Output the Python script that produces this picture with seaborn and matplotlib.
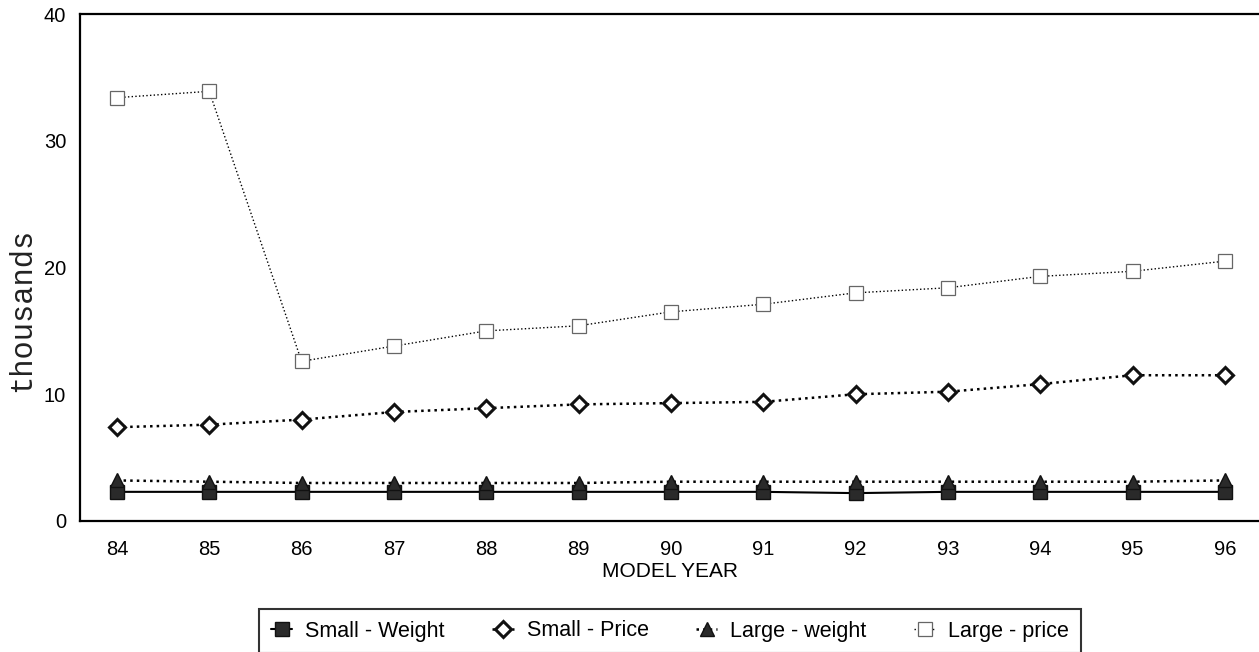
import seaborn as sns
import pandas as pd
import matplotlib.pyplot as plt

sns.set_theme(style="white")
plt.rcParams['font.family'] = ['Liberation Sans', 'DejaVu Sans']
plt.rcParams['text.color'] = 'black'
plt.rcParams['axes.labelcolor'] = 'black'
plt.rcParams['xtick.color'] = 'black'
plt.rcParams['ytick.color'] = 'black'

# Data (values in thousands).
years = [84, 85, 86, 87, 88, 89, 90, 91, 92, 93, 94, 95, 96]
small_weight = [2.3, 2.3, 2.3, 2.3, 2.3, 2.3, 2.3, 2.3, 2.2, 2.3, 2.3, 2.3, 2.3]
small_price = [7.4, 7.6, 8.0, 8.6, 8.9, 9.2, 9.3, 9.4, 10.0, 10.2, 10.8, 11.5, 11.5]
large_weight = [3.2, 3.1, 3.0, 3.0, 3.0, 3.0, 3.1, 3.1, 3.1, 3.1, 3.1, 3.1, 3.2]
large_price = [33.4, 33.9, 12.6, 13.8, 15.0, 15.4, 16.5, 17.1, 18.0, 18.4, 19.3, 19.7, 20.5]

series_names = ["Small - Weight", "Small - Price", "Large - weight", "Large - price"]
series_values = [small_weight, small_price, large_weight, large_price]

# Styles for each series: (linestyle, linewidth, marker, markersize, facecolor, edgecolor, edgewidth)
styles = {
    "Small - Weight": ("-", 1.5, "s", 9.5, "#2a2a2a", "#111111", 1.0),
    "Small - Price": (":", 1.8, "D", 8, "white", "#111111", 2.2),
    "Large - weight": (":", 1.8, "^", 10, "#2a2a2a", "#111111", 1.0),
    "Large - price": (":", 1.0, "s", 10, "white", "#666666", 0.9),
}

df = pd.concat([pd.DataFrame({"year": years, "value": v, "series": n})
                for n, v in zip(series_names, series_values)])

fig = plt.figure(figsize=(12.59, 6.52), dpi=100)
ax = fig.add_axes([80 / 1259, 1 - 521 / 652, 1 - 80 / 1259, (521 - 14) / 652])

for name in series_names:
    ls, lw, mk, ms, mfc, mec, mew = styles[name]
    sns.lineplot(data=df[df["series"] == name], x="year", y="value", ax=ax,
                 color="black", linestyle=ls, linewidth=lw, marker=mk,
                 markersize=ms, markerfacecolor=mfc, markeredgecolor=mec,
                 markeredgewidth=mew, label=name)

ax.set_xlim(83.6, 96.37)
ax.set_ylim(0, 40)
ax.set_xticks(years)
ax.set_yticks([0, 10, 20, 30, 40])
ax.tick_params(direction="in", length=12, width=1.4, labelsize=14.5)
ax.tick_params(axis="x", pad=14)
ax.tick_params(axis="y", pad=10)
for s in ["left", "bottom", "top"]:
    ax.spines[s].set_color("black")
    ax.spines[s].set_linewidth(1.6)
ax.spines["right"].set_visible(False)

ax.set_xlabel("MODEL YEAR", fontsize=15, labelpad=2)
ax.set_ylabel("thousands", fontsize=22, family="Liberation Mono", color="#222222")
ax.yaxis.set_label_coords(-43 / 1179, (521 - 310) / 507)

leg = ax.legend(loc="center", bbox_to_anchor=(670 / 1259, 1 - 631 / 652),
                bbox_transform=fig.transFigure, ncol=4, fontsize=15.5,
                frameon=True, fancybox=False, edgecolor="black",
                handlelength=1.0, handletextpad=0.6, columnspacing=2.2,
                borderpad=0.55, borderaxespad=0)
leg.get_frame().set_linewidth(1.5)

fig.savefig("out.png", dpi=100)
